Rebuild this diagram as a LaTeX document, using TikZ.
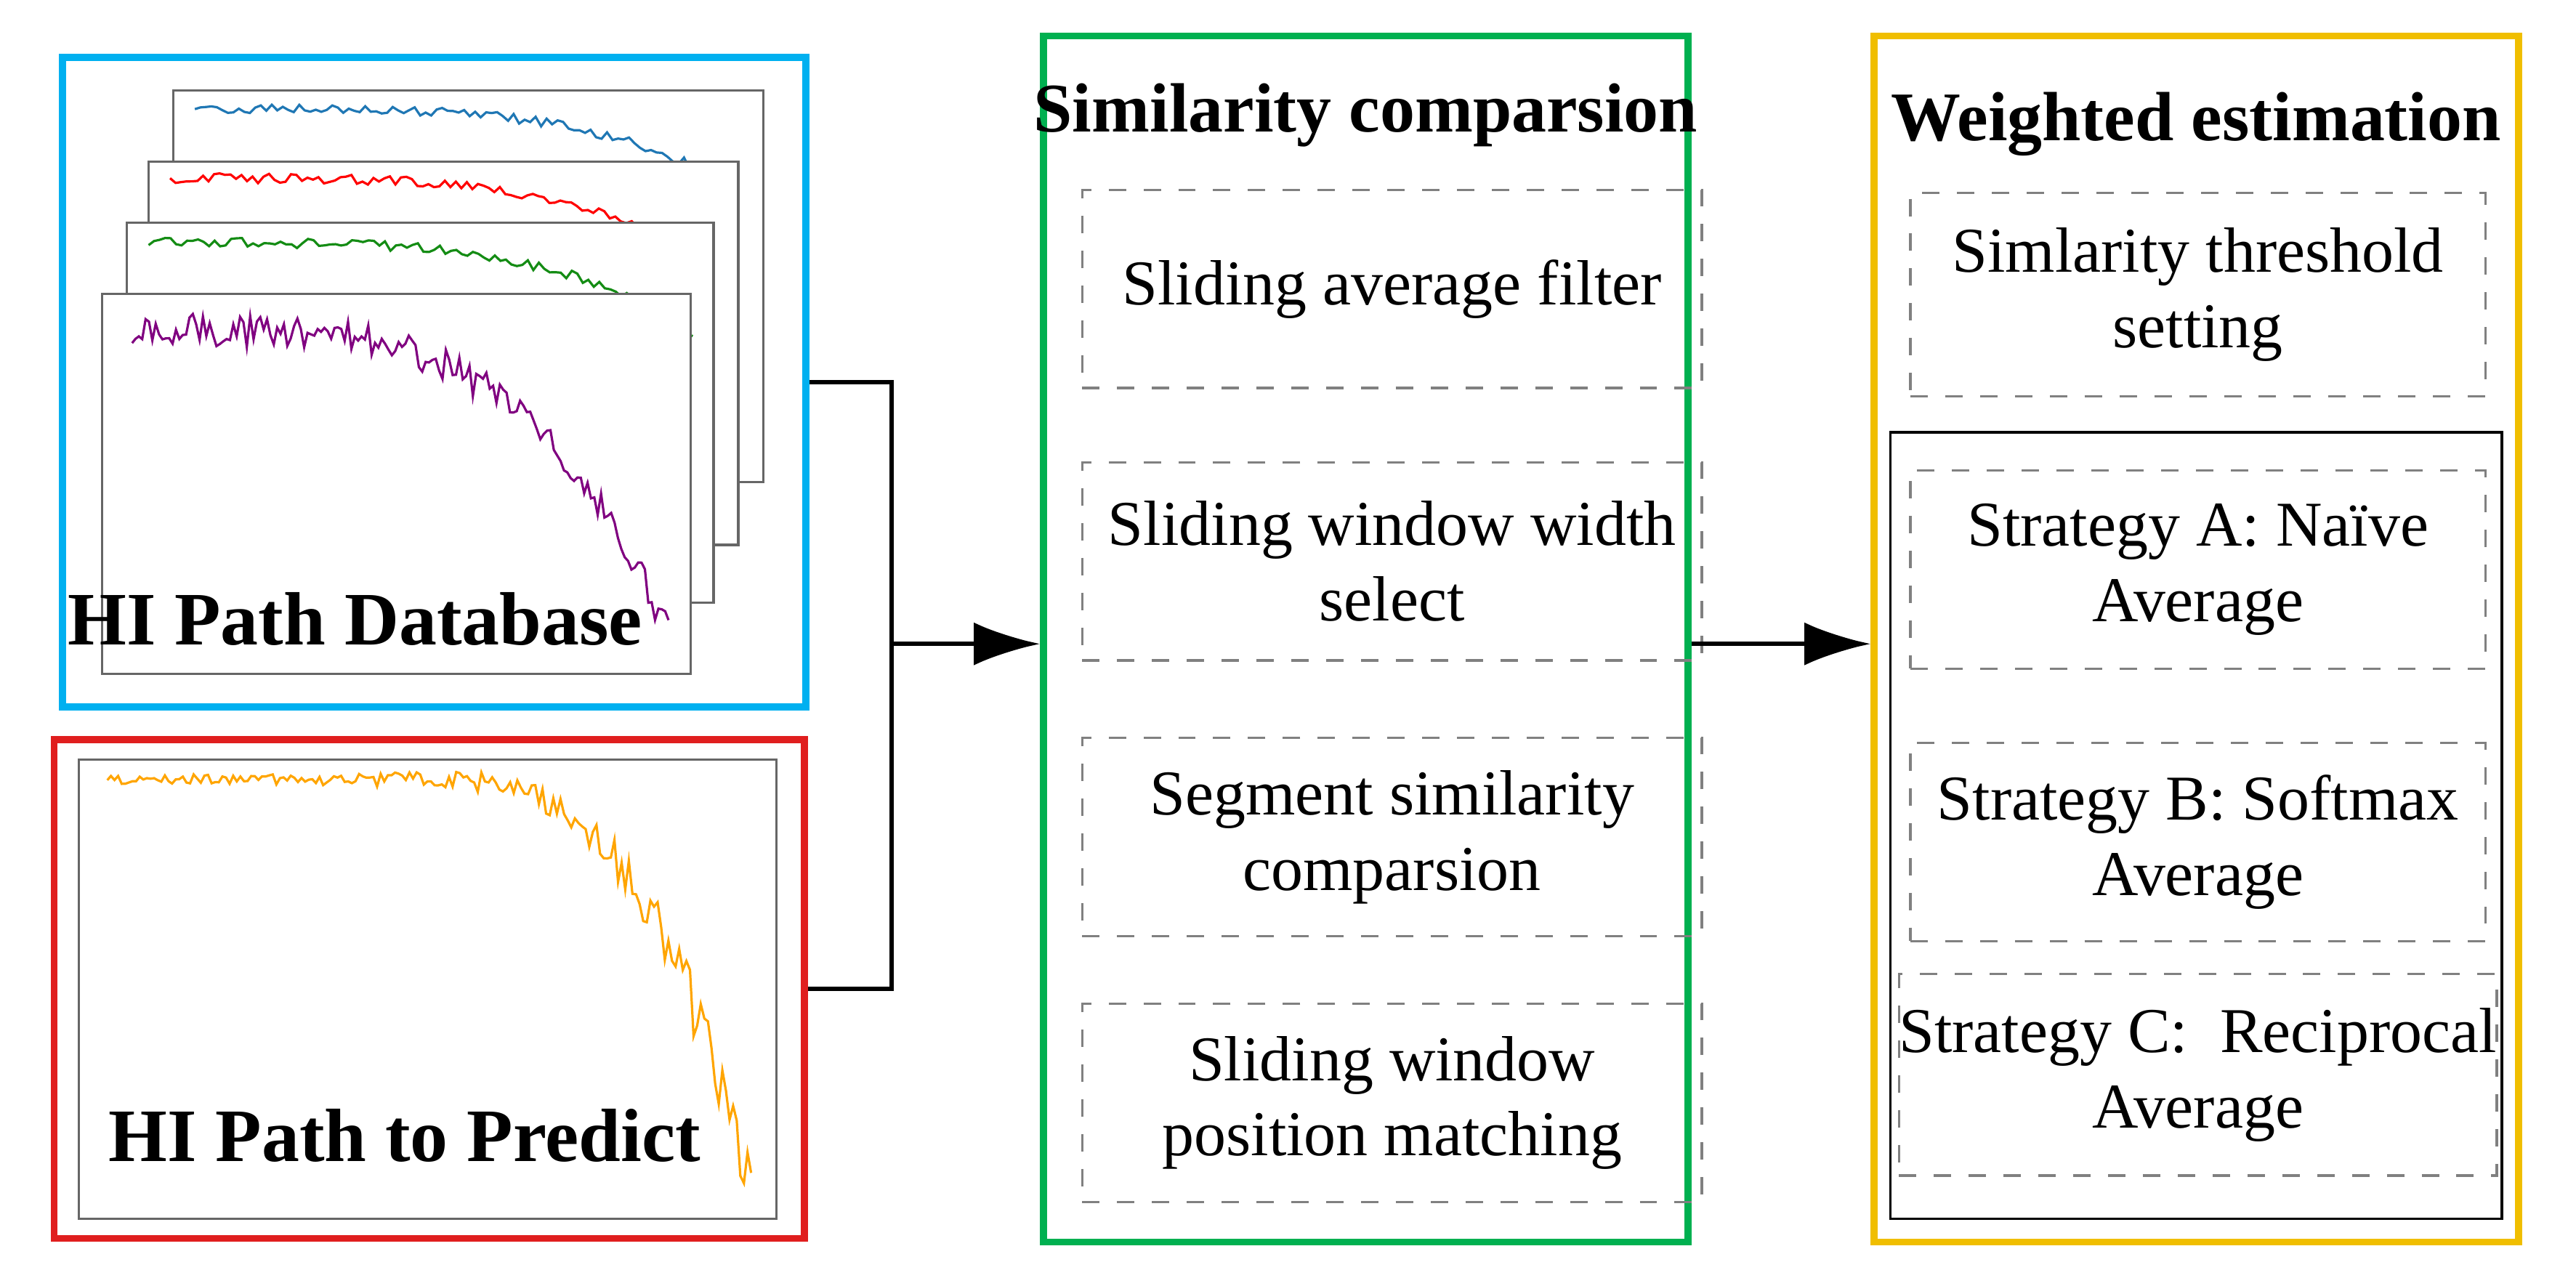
\documentclass[tikz,border=0pt]{standalone}
\usepackage{fontspec}
\setmainfont{Liberation Serif}
\usetikzlibrary{positioning, arrows.meta}
\definecolor{boxblue}{RGB}{0,176,240}
\definecolor{boxred}{RGB}{224,30,30}
\definecolor{boxgreen}{RGB}{0,176,80}
\definecolor{boxyellow}{RGB}{240,190,0}
\definecolor{cblue}{RGB}{31,119,180}
\definecolor{cgreen}{RGB}{20,140,20}
\definecolor{cpurple}{RGB}{128,0,128}
\definecolor{corange}{RGB}{255,165,0}
\begin{document}
\begin{tikzpicture}[x=0.01cm, y=-0.01cm, font=\fontsize{11}{13}\selectfont]

  \tikzstyle{frame}=[draw, line width=1.2pt, inner sep=0pt]
  \tikzstyle{page}=[draw=gray!80!black, fill=white, inner sep=0pt]
  \tikzstyle{stage}=[draw=gray, dashed, align=center, inner sep=0pt, minimum width=3.75cm, minimum height=1.2cm]
  \tikzstyle{arr}=[-{Latex[length=4mm, width=2.6mm]}, thick]

  \useasboundingbox (0,0) rectangle (1560,774);

  % database of paths
  \node [frame, draw=boxblue, minimum width=4.5cm, minimum height=3.93cm] (db) at (263,231.5) {};
  \node [page, minimum width=3.57cm, minimum height=2.37cm] (p1) at (283.5,173.5) {};
  \pgfmathsetseed{11}
  \draw [cblue] plot[domain=0:1, samples=100] ({118+330*\x}, {66+50*\x^4+3*rand});
  \node [page, minimum width=3.57cm, minimum height=2.32cm] (p2) at (268.5,214) {};
  \draw [red] plot[domain=0:1, samples=100] ({103+330*\x}, {108+55*\x^4+3*rand});
  \node [page, minimum width=3.55cm, minimum height=2.3cm] (p3) at (254.5,250) {};
  \draw [cgreen] plot[domain=0:1, samples=100] ({90+330*\x}, {147+55*\x^4+3*rand});
  \node [page, minimum width=3.56cm, minimum height=2.3cm] (p4) at (240,293) {};
  \draw [cpurple] plot[domain=0:1, samples=160] ({80+325*\x}, {200+185*\x^4+10*rand});
  \node [font=\fontsize{13}{15}\selectfont\bfseries] (dbtext) at (215,375) {HI Path Database};

  % path to predict
  \node [frame, draw=boxred, minimum width=4.54cm, minimum height=3.02cm] (pred) at (260,599) {};
  \node [page, minimum width=4.22cm, minimum height=2.78cm] (pin) at (259,599) {};
  \draw [corange] plot[domain=0:1, samples=180] ({65+390*\x}, {472+ (\x>0.5 ? 250*((\x-0.5)/0.5)^3 : 0) + (3+20*\x^3)*rand});
  \node [font=\fontsize{13}{15}\selectfont\bfseries] (predtext) at (245,688) {HI Path to Predict};

  % similarity comparison
  \node [frame, draw=boxgreen, minimum width=3.9cm, minimum height=7.3cm] (sim) at (827,387) {};
  \node [font=\fontsize{12}{14}\selectfont\bfseries] (simtitle) at (827,70) {Similarity comparsion};
  \node [stage] (s1) at (843,175) {Sliding average filter};
  \node [stage] (s2) at (843,340) {Sliding window width\\select};
  \node [stage] (s3) at (843,507) {Segment similarity\\comparsion};
  \node [stage] (s4) at (843,668) {Sliding window\\position matching};

  % weighted estimation
  \node [frame, draw=boxyellow, minimum width=3.9cm, minimum height=7.3cm] (est) at (1330,387) {};
  \node [font=\fontsize{12}{14}\selectfont\bfseries] (esttitle) at (1330,75) {Weighted estimation};
  \node [stage, minimum width=3.48cm, minimum height=1.23cm] (w1) at (1331,178.5) {Simlarity threshold\\setting};
  \node [draw, minimum width=3.7cm, minimum height=4.76cm, inner sep=0pt] (group) at (1330,500) {};
  \node [stage, minimum width=3.48cm] (w2) at (1331,345) {Strategy A: Naïve\\Average};
  \node [stage, minimum width=3.48cm] (w3) at (1331,510) {Strategy B: Softmax\\Average};
  \node [stage, minimum width=3.48cm, minimum height=1.22cm] (w4) at (1331,651) {Strategy C:\ \ Reciprocal\\Average};

  % connectors
  \coordinate (join) at (540,390);
  \draw [thick] (db) -| (join);
  \draw [thick] (pred) -| (join);
  \draw [arr] (join) -- (join -| sim.west);
  \draw [arr] (sim.east |- join) -- (est.west |- join);

\end{tikzpicture}
\end{document}
